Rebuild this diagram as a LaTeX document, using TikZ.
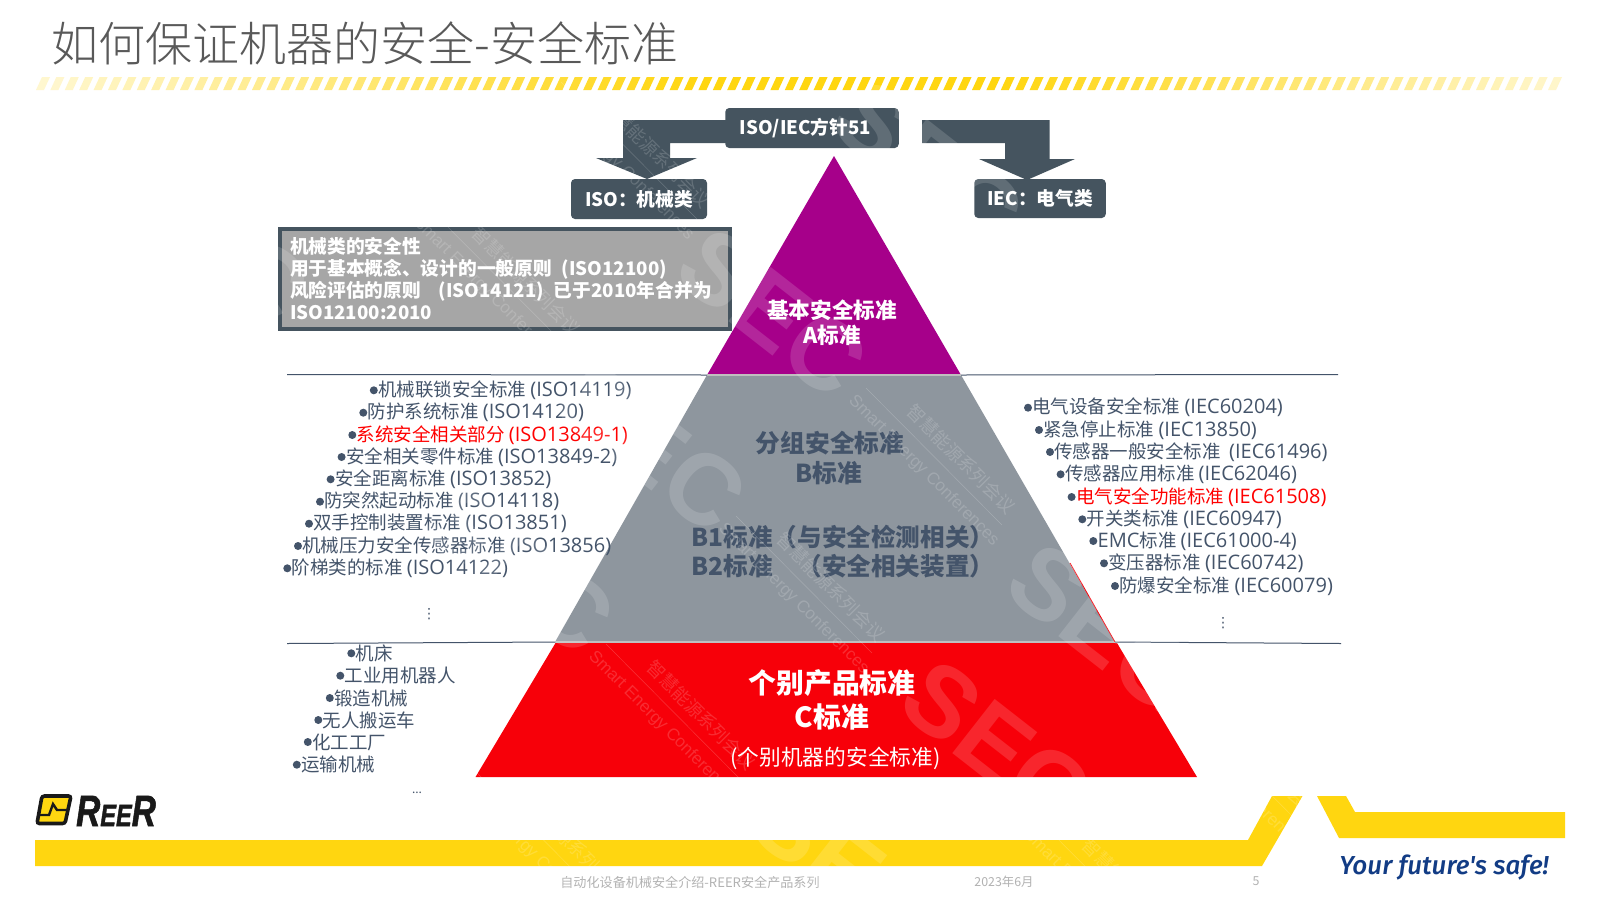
\documentclass[tikz,border=0pt]{standalone}
\usepackage{fontspec}
\usepackage{xcolor}
\setmainfont{Noto Sans CJK SC}
\newfontfamily\lightcjk{Noto Sans CJK SC Light}
\newfontfamily\wmfont{Liberation Sans}
\newfontfamily\logofont[FakeBold=1.5]{Liberation Sans}
\newfontfamily\tagfont{Fira Sans Medium}
\newfontfamily\latfont{Open Sans}
\newfontfamily\symfont{DejaVu Sans}
\usetikzlibrary{positioning,calc}
\definecolor{slatedark}{HTML}{45545F}
\definecolor{slatetxt}{HTML}{44546A}
\definecolor{reeryellow}{HTML}{FFD610}
\definecolor{pyrpurple}{HTML}{A6008A}
\definecolor{pyrgray}{HTML}{8E969E}
\definecolor{pyrred}{HTML}{F70009}
\definecolor{tagblue}{HTML}{123C85}
\newcommand{\fs}[1]{\fontsize{#1}{#1}\selectfont}
\newcommand{\lat}[1]{{\fs{20}\latfont #1}}
\tikzset{darkbox/.style={fill=slatedark,rounded corners=4pt,inner sep=0pt,text=white,font=\fs{18.7}\bfseries}}
\tikzset{bulletdot/.style={circle,fill=slatetxt,inner sep=0pt,minimum size=8pt}}
\tikzset{listitem/.style={anchor=west,inner sep=0pt,yshift=-1pt,text=slatetxt,font=\fs{18.5},label distance=2.5pt,label={[bulletdot]left:}}}
\tikzset{sectitle/.style={inner sep=0pt,align=center,text=white,font=\bfseries}}
\tikzset{wmletters/.style={inner sep=0pt,rotate=-38,text=white,text opacity=0.15,font=\fs{100}\wmfont\bfseries}}
\tikzset{wmsmall/.style={anchor=west,inner sep=0pt,rotate=-45,text=white,text opacity=0.17}}
\begin{document}
\begin{tikzpicture}[x=1pt,y=-1pt]
\useasboundingbox (0,0) rectangle (1600,900);
\fill[white] (0,0) rectangle (1600,900);
\node[inner sep=0pt,text=black!65,font=\fs{47}\lightcjk] (title) at (365,43) {如何保证机器的安全-安全标准};
\foreach \i in {0,...,105}{
  \pgfmathsetmacro{\dx}{36+14.4*\i}
  \pgfmathtruncatemacro{\lev}{min(100,min(20+(\dx-36)/650*80,20+(1565-\dx)/565*80))}
  \fill[reeryellow!\lev!white] (\dx,90) -- (\dx+8,90) -- (\dx+14,77) -- (\dx+6,77) -- cycle;
}
\coordinate (peak) at (834,156);
\coordinate (purL) at (707,375);
\coordinate (purR) at (961,375);
\coordinate (gryL) at (555,642);
\coordinate (gryR) at (1115,642);
\coordinate (redL) at (555.5,643);
\coordinate (redR) at (1117,643);
\coordinate (botL) at (475.5,777);
\coordinate (botR) at (1197,777);
\fill[pyrpurple] (peak) -- (purR) -- (purL) -- cycle;
\fill[pyrgray] (purL) -- (purR) -- (gryR) -- (gryL) -- cycle;
\draw[black!25,line width=1.2pt] (purL) -- (purR);
\fill[pyrred] (redL) -- (redR) -- (botR) -- (botL) -- cycle;
\draw[black!25,line width=1.2pt] (gryL) -- (gryR);
\draw[pyrred,line width=0.8pt] (1070,563) -- (gryR);
\coordinate (ruleAL) at (287,374.5);
\coordinate (ruleAR) at (1338,374.5);
\coordinate (ruleBL) at (287,643.5);
\coordinate (ruleBR) at (1341,643.5);
\draw[slatetxt,line width=1pt] (ruleAL) -- (purL);
\draw[slatetxt,line width=1pt] (purR) -- (ruleAR);
\draw[slatetxt,line width=1pt] (ruleBL) -- (gryL);
\draw[slatetxt,line width=1pt] (gryR) -- (ruleBR);
\fill[slatedark] (730,120) -- (623,120) -- (623,158) -- (596,158) -- (647,179) -- (697,158) -- (670,158) -- (670,143) -- (730,143) -- cycle;
\fill[slatedark] (922,120) -- (1049.5,120) -- (1049.5,159) -- (1075,159) -- (1027,180) -- (979,159) -- (1005,159) -- (1005,143) -- (922,143) -- cycle;
\node[darkbox,minimum width=173.5pt,minimum height=40pt] (guide) at (812,128) {ISO/IEC方针51\hspace{13pt}\mbox{}};
\node[darkbox,minimum width=136pt,minimum height=40pt] (isobox) at (639,199) {ISO：机械类};
\node[darkbox,minimum width=131.5pt,minimum height=39pt] (iecbox) at (1040,198.5) {IEC：电气类};
\node[draw=slatedark,line width=4pt,fill=black!35,inner ysep=0pt,inner xsep=10pt,text width=430pt,align=left,minimum height=100pt,text=white,font=\fontsize{18.7}{22}\selectfont\bfseries] (mechnote) at (505,279) {机械类的安全性\\用于基本概念、设计的一般原则\hspace{10pt}(ISO12100)\\风险评估的原则\hspace{18pt}(ISO14121)\hspace{10pt}已于2010年合并为\\ISO12100:2010};
\node[sectitle,font=\fs{21.6}\bfseries] (secA) at (832,310) {基本安全标准};
\node[sectitle,font=\fs{21.6}\bfseries] (secAb) at (832,335) {A标准};
\node[sectitle,text=slatetxt,font=\fs{24.7}\bfseries] (secB) at (830,443) {分组安全标准};
\node[sectitle,text=slatetxt,font=\fs{24.7}\bfseries] (secBb) at (829,473) {B标准};
\node[sectitle,anchor=west,text=slatetxt,font=\fs{24.6}\bfseries] (secBone) at (691.5,537) {B1标准（与安全检测相关）};
\node[sectitle,anchor=west,text=slatetxt,font=\fs{24.6}\bfseries] (secBtwo) at (691.5,566) {B2标准　（安全相关装置）};
\node[sectitle,font=\fs{27.8}\bfseries] (secC) at (832,683) {个别产品标准};
\node[sectitle,font=\fs{27.8}\bfseries] (secCb) at (832,717) {C标准};
\node[sectitle,font=\fs{21.7}\mdseries] (secCc) at (835.5,758) {(个别机器的安全标准)};
\node[listitem] (la) at (378,389.3) {机械联锁安全标准 \lat{(ISO14119)}};
\node[listitem] (lb) at (367.5,411.7) {防护系统标准 \lat{(ISO14120)}};
\node[listitem,text=red] (lc) at (356.5,434) {系统安全相关部分 \lat{(ISO13849-1)}};
\node[listitem] (ld) at (345.8,456) {安全相关零件标准 \lat{(ISO13849-2)}};
\node[listitem] (le) at (334.8,478.3) {安全距离标准 \lat{(ISO13852)}};
\node[listitem] (lf) at (324.2,500.7) {防突然起动标准 \lat{(ISO14118)}};
\node[listitem] (lg) at (313.2,522.7) {双手控制装置标准 \lat{(ISO13851)}};
\node[listitem] (lh) at (302.2,545) {机械压力安全传感器标准 \lat{(ISO13856)}};
\node[listitem] (li) at (291.5,567.3) {阶梯类的标准 \lat{(ISO14122)}};
\node[inner sep=0pt,text=slatetxt,font=\fs{14}\symfont] (lmore) at (429,614) {⋮};
\node[listitem] (ra) at (1032.2,406.7) {电气设备安全标准 \lat{(IEC60204)}};
\node[listitem] (rb) at (1043.2,429) {紧急停止标准 \lat{(IEC13850)}};
\node[listitem] (rc) at (1054.2,451) {传感器一般安全标准 \ \lat{(IEC61496)}};
\node[listitem] (rd) at (1064.8,473.3) {传感器应用标准 \lat{(IEC62046)}};
\node[listitem,text=red] (re) at (1075.8,496) {电气安全功能标准 \lat{(IEC61508)}};
\node[listitem] (rf) at (1086.5,518.3) {开关类标准 \lat{(IEC60947)}};
\node[listitem] (rg) at (1097.5,540) {\lat{EMC}标准 \lat{(IEC61000-4)}};
\node[listitem] (rh) at (1108.2,562.3) {变压器标准 \lat{(IEC60742)}};
\node[listitem] (ri) at (1119.2,585) {防爆安全标准 \lat{(IEC60079)}};
\node[inner sep=0pt,text=slatetxt,font=\fs{14}\symfont] (rmore) at (1223,623) {⋮};
\node[listitem] (ca) at (355.5,652.3) {机床};
\node[listitem] (cb) at (344.5,674.7) {工业用机器人};
\node[listitem] (cc) at (334,697) {锻造机械};
\node[listitem] (cd) at (322.5,719) {无人搬运车};
\node[listitem] (ce) at (312,741) {化工工厂};
\node[listitem] (cf) at (301,763.7) {运输机械};
\node[inner sep=0pt,text=slatetxt,font=\fs{12}] (cmore) at (417,793) {...};
\fill[reeryellow] (35,840) -- (1248,840) -- (1272,796) -- (1302.5,796) -- (1262,866) -- (35,866) -- cycle;
\fill[reeryellow] (1317,796) -- (1346,796) -- (1355,812) -- (1565,812) -- (1565,838) -- (1339,838) -- cycle;
\draw[black!90,line width=3.6pt,fill=reeryellow,rounded corners=2.5pt] (42,796) -- (71,796) -- (65,823.5) -- (37,823.5) -- cycle;
\draw[black!90,line width=2.4pt] (39,815) -- (49,815) -- (53,804) -- (57,810) -- (68,810);
\node[inner sep=0pt,anchor=west,xscale=0.76,transform shape,text=black!90,font=\logofont\bfseries\itshape] (logo) at (76,811) {\fs{44}R\fs{31}EE\fs{44}R};
\node[inner sep=0pt,text=tagblue,font=\fs{26}\tagfont\itshape] (tagline) at (1444,868) {Your future's safe!};
\node[inner sep=0pt,text=black!30,font=\fs{13.1}] (foota) at (690,882) {自动化设备机械安全介绍-REER安全产品系列};
\node[inner sep=0pt,text=black!30,font=\fs{12.4}] (footb) at (1004,882) {2023年6月};
\node[inner sep=0pt,text=black!30,font=\fs{12.4}] (footc) at (1256,881) {5};
\begin{scope}
\clip (0,0) rectangle (1600,900);
\foreach \wx/\wy in {929/165,773/313,652/448,520/570,215/240,1103/628,997/745,847/868}{
  \node[wmletters] at (\wx,\wy) {SEC};
}
\foreach \wx/\wy in {851/398,721/526,591/654,461/782,546/92,416/220,1156/704,1026/832}{
  \node[wmsmall,font=\fs{17}\wmfont] at (\wx,\wy) {Smart Energy Conferences};
  \node[wmsmall,font=\fs{18}] at (\wx+59,\wy+10) {智慧能源系列会议};
  \draw[white,opacity=0.2,line width=0.5pt] (\wx+15,\wy-10) -- (\wx+151,\wy+127);
}
\end{scope}
\end{tikzpicture}
\end{document}
